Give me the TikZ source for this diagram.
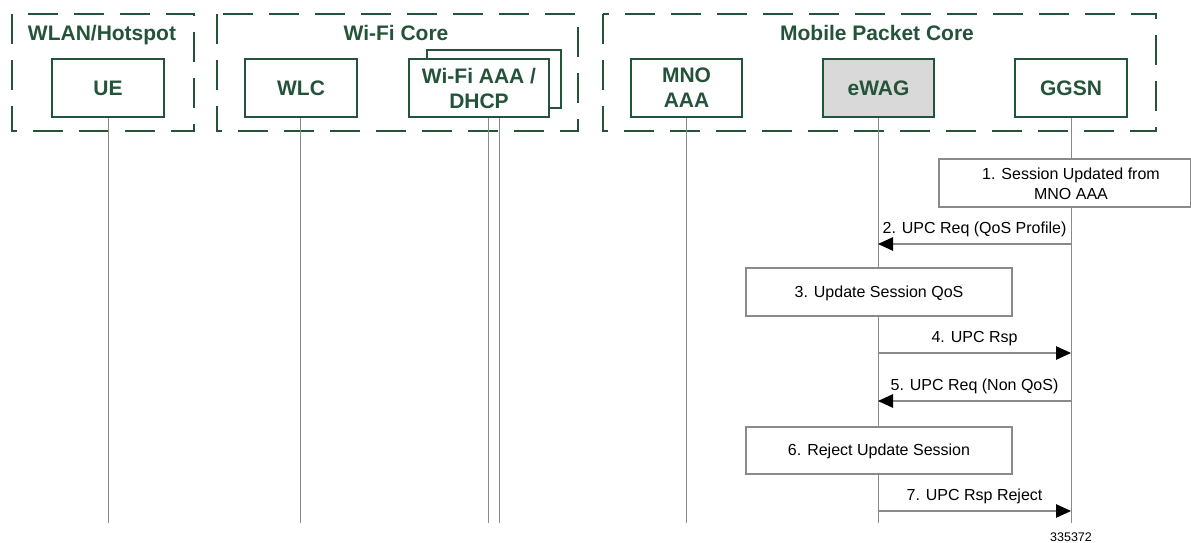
\documentclass[tikz,border=0pt]{standalone}
\usepackage{fontspec}
\setmainfont{Liberation Sans}
\usetikzlibrary{arrows.meta}
\definecolor{dkgreen}{HTML}{24533A}
\definecolor{linegray}{HTML}{8A8A8A}
\definecolor{boxgray}{HTML}{D9D9D9}
\begin{document}
\begin{tikzpicture}[x=1pt,y=-1pt,
  zone/.style={draw=dkgreen, line width=2.3pt, dash pattern=on 30pt off 16pt},
  zonetitle/.style={text=dkgreen, anchor=base, font=\fontsize{21}{25}\selectfont\bfseries},
  entity/.style={draw=dkgreen, line width=1.8pt, fill=white, text=dkgreen,
    minimum height=58pt, inner sep=0pt, align=center,
    font=\fontsize{21}{25}\selectfont\bfseries},
  lifeline/.style={draw=linegray, line width=1pt},
  action/.style={draw=linegray, line width=1.1pt, fill=white, minimum height=48pt, inner sep=0pt},
  acttext/.style={align=center, font=\fontsize{16}{20}\selectfont, inner sep=0pt},
  msg/.style={draw=linegray, line width=1.1pt, -{Triangle[length=15pt,width=13.5pt,color=black]}},
  msglabel/.style={midway, yshift=14.5pt, inner sep=0pt, font=\fontsize{16}{20}\selectfont}
]
\useasboundingbox (0,0) rectangle (1191,543);

% zones
\draw[zone] (12,14) rectangle (194,131);
\draw[zone] (217,14) rectangle (578,131);
\draw[zone] (603,14) rectangle (1156,131);
\node[zonetitle] (t1) at (102,40.5) {WLAN/Hotspot};
\node[zonetitle] (t2) at (396,40.5) {Wi-Fi Core};
\node[zonetitle] (t3) at (877,40.5) {Mobile Packet Core};

% entities
\node[entity, minimum width=112pt] (ue) at (108,88) {UE};
\node[entity, minimum width=112pt] (wlc) at (301,88) {WLC};
\node[entity, minimum width=134pt, minimum height=58pt] (aaaback) at (494,79) {};
\node[entity, minimum width=140pt] (aaa) at (479,88) {Wi-Fi AAA /\\DHCP};
\node[entity, minimum width=111pt] (mno) at (686.5,88) {MNO\\AAA};
\node[entity, minimum width=111pt, fill=boxgray] (ewag) at (878.5,88) {eWAG};
\node[entity, minimum width=112pt] (ggsn) at (1071,88) {GGSN};

% lifelines
\coordinate (ueE) at (108,523);
\coordinate (wlcE) at (300,523);
\coordinate (aaaE1) at (488,523);
\coordinate (aaaE2) at (499,523);
\coordinate (mnoE) at (686,523);
\coordinate (ewagE) at (878,523);
\coordinate (ggsnE) at (1071,523);
\draw[lifeline] (ue.south) -- (ueE);
\draw[lifeline] (wlcE |- aaa.south) -- (wlcE);
\draw[lifeline] (aaaE1 |- aaa.south) -- (aaaE1);
\draw[lifeline] (aaaE2 |- aaa.south) -- (aaaE2);
\draw[lifeline] (mnoE |- mno.south) -- (mnoE);
\draw[lifeline] (ewagE |- ewag.south) -- (ewagE);
\draw[lifeline] (ggsnE |- ggsn.south) -- (ggsnE);

% actions
\node[action, minimum width=252pt] (s1) at (1065,183) {};
\node[acttext] (s1t) at (1071,184) {1. Session Updated from\\MNO AAA};
\node[action, minimum width=266pt] (s3) at (879,292) {};
\node[acttext] (s3t) at (879,293) {3. Update Session QoS};
\node[action, minimum width=266pt, minimum height=47pt] (s6) at (879,450.5) {};
\node[acttext] (s6t) at (879,451) {6. Reject Update Session};

% messages
\draw[msg] (ggsnE |- 0,244) -- (ewagE |- 0,244) node[msglabel] (m2) {2. UPC Req (QoS Profile)};
\draw[msg] (ewagE |- 0,353) -- (ggsnE |- 0,353) node[msglabel] (m4) {4. UPC Rsp};
\draw[msg] (ggsnE |- 0,401) -- (ewagE |- 0,401) node[msglabel] (m5) {5. UPC Req (Non QoS)};
\draw[msg] (ewagE |- 0,511) -- (ggsnE |- 0,511) node[msglabel] (m7) {7. UPC Rsp Reject};

\node[font=\fontsize{12.5}{14}\selectfont, inner sep=0pt] (fig) at (1071,537) {335372};
\end{tikzpicture}
\end{document}
